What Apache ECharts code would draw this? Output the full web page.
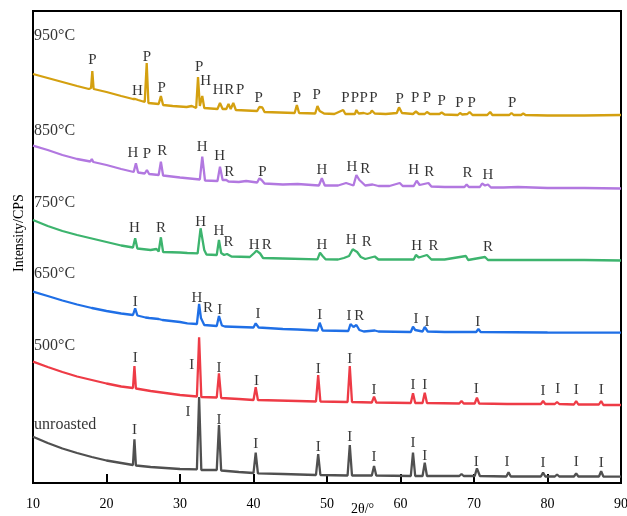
<!DOCTYPE html>
<html>
<head>
<meta charset="utf-8">
<script src="https://cdn.jsdelivr.net/npm/echarts@6/dist/echarts.min.js"></script>
<style>html,body{margin:0;padding:0;background:#fff}#c{width:627px;height:516px}</style>
</head>
<body>
<div id="c"></div>
<script>
// x tick labels
var xTicks = [10, 20, 30, 40, 50, 60, 70, 80, 90];
var seriesNames = ['950°C', '850°C', '750°C', '650°C', '500°C', 'unroasted'];
var nameY = [447, 352, 280, 209, 137.5, 58.5];

// Patterns: [2θ, intensity (stacked offset units)]
var s950 = [[10,409],[12,405],[14,401],[16,397],[17.6,394],[17.9,395],[18.07,412],[18.25,394],[20,391],[22,387],[23.6,384],[23.9,384],[24.1,386],[24.3,383],[25.2,381],[25.47,420],[25.7,380],[27.1,379],[27.4,387],[27.7,378],[29,377],[30.9,376],[31.6,377],[31.8,376],[32.2,375],[32.45,406],[32.7,377],[33.03,387],[33.3,375],[35.1,374],[35.44,380],[35.8,374],[36.3,374],[36.6,379],[36.9,374],[37.25,380],[37.6,373],[40.5,372],[40.8,376],[41.0,374],[41.2,375.5],[41.5,371],[45.6,370],[45.9,378],[46.2,370],[48.4,369.5],[48.7,377],[49.0,372],[49.2,373],[49.6,369.5],[51,369],[52.2,373],[52.5,369],[53.8,369],[54.0,373],[54.3,369.5],[55.0,370],[55.2,372],[55.5,369],[55.9,370],[56.1,372.5],[56.5,369.5],[58,369],[59.5,370],[59.8,375.7],[60.2,370],[61.7,369],[62.1,371.5],[62.5,369],[63.3,369],[63.6,371],[64,369],[65.3,369],[65.6,370.5],[66,368.5],[67.8,368],[68.1,370],[68.4,368.5],[69.1,369],[69.4,371],[69.8,368],[71.8,368],[72.2,371],[72.5,368],[74.8,368],[75.1,370],[75.4,368],[76.4,368],[76.7,369.5],[77,368],[80,367.5],[85,367.5],[90,368]];
var s850 = [[10,337.3],[12,333],[14,328],[16,324],[17.8,321.5],[18.0,324],[18.2,321],[20,318],[22,314],[23.7,311],[24.0,319.7],[24.3,310.5],[25.2,309.5],[25.5,313],[25.8,309],[27.1,308],[27.4,321.3],[27.7,307.5],[30,305.5],[32.7,303.5],[33.03,326.3],[33.4,302.5],[35.1,302],[35.44,316.3],[35.8,303],[36.0,302],[36.3,303],[36.6,301.5],[38,301],[39,302],[40.5,300.5],[40.8,304.7],[41.1,303],[41.5,299.5],[44,298.5],[46,299],[48.9,297.5],[49.3,304.7],[49.7,297.5],[51.5,297.5],[52.6,300],[53.6,297.5],[54.0,308],[54.4,303],[54.7,301],[55.2,297.5],[56.2,298.5],[57,297],[58.5,297],[59.9,300],[60.3,297],[61.8,297],[62.2,302.3],[62.6,298],[63.8,300],[64.2,296.5],[66,296],[68.7,296],[69.0,298.5],[69.3,296],[70.8,296],[71.1,299.5],[71.5,297.5],[71.9,298.5],[72.3,295.5],[74,295.5],[76,296],[80,295],[85,295],[90,294.5]];
var s750 = [[10,263],[12,257],[14,252],[16,248],[18,244.5],[20,241],[22,237.5],[23.6,235.5],[23.9,244.7],[24.2,234.5],[26,233],[26.8,234],[27.1,231.5],[27.4,245.7],[27.7,231],[30,230.5],[31,230],[32.4,229.7],[32.8,254.7],[33.3,233],[33.6,228.5],[35.0,228],[35.3,243],[35.6,230],[36.0,228],[36.4,229],[37,226.5],[39.5,226],[40.1,230],[40.4,232.3],[40.9,229.5],[41.3,225],[44,224.5],[48.7,223.7],[49.05,230.3],[49.4,227],[49.8,223.7],[51.5,223.5],[52.3,225],[53.0,227],[53.5,233.7],[54.1,231],[54.6,226],[55.2,224],[56.5,226.5],[57.0,223.5],[59,223.5],[61.8,223.5],[62.1,228],[62.5,225.5],[63.6,228],[64.2,223.5],[66,223.5],[68.9,227],[69.2,223],[71.5,226],[71.9,223],[76,223],[80,223],[85,223],[90,222.5]];
var s650 = [[10,191.3],[12,187],[14,182.5],[16,178.5],[18,175],[20,172],[22,169.5],[23.6,168],[23.9,174.7],[24.2,167.5],[25.3,165.5],[25.5,167.5],[25.8,165],[27.1,164],[27.3,166],[27.6,163],[30,161],[31,159.7],[32.3,159],[32.6,179],[32.85,165],[33.0,166.3],[33.3,158],[35.0,157],[35.3,167],[35.7,157.5],[36.1,156.5],[40.0,155.5],[40.3,159.7],[40.7,155.5],[44,154],[46,153.5],[48.7,152.5],[49.0,160.3],[49.4,152.5],[52.9,152],[53.2,159],[53.6,156],[54.0,158],[54.4,153],[55,151.5],[56.5,152.5],[57,151.5],[61.4,151],[61.7,156.3],[62.0,153],[63.0,151.5],[63.3,156],[63.7,151.5],[66,151],[70.3,151],[70.6,154],[70.9,151],[80,150.5],[90,150.3]];
var s500 = [[10,121.3],[12,116],[14,111],[16,106.5],[18,103],[20,99.5],[22,96.5],[23.6,95],[23.8,117],[24.0,94.5],[26,92],[28,90],[30,88],[32.3,86.5],[32.6,145.7],[32.9,86],[35.0,85.5],[35.3,109.7],[35.6,85],[38,84],[40.0,83],[40.3,95.7],[40.6,83],[46,82],[48.5,81.5],[48.8,108],[49.1,81.5],[52.8,81],[53.1,117],[53.4,81],[56.1,80.5],[56.4,86.3],[56.7,80.5],[61.4,80],[61.7,89.7],[62.0,80],[63.0,80],[63.3,90.3],[63.6,80],[68.0,79.5],[68.3,82],[68.6,79.5],[70.1,79.5],[70.4,85.3],[70.7,79.5],[74.5,79],[74.7,80.5],[75.0,79],[79.1,79],[79.4,82],[79.7,79],[81.0,79],[81.3,81],[81.6,79],[83.6,78.5],[83.9,82],[84.2,78.5],[87.0,78.5],[87.3,82],[87.6,78],[90,78]];
var sRaw = [[10,46.3],[12,40],[14,34.5],[16,30],[18,26],[20,22.5],[22,20],[23.6,18],[23.8,43.7],[24.0,17.5],[26,16],[28,15],[30,14],[32.3,13.7],[32.6,86],[32.9,13],[35.0,13],[35.3,58],[35.6,12.5],[38,11],[40.0,10],[40.3,30.3],[40.6,9.7],[44,9],[48.5,8],[48.8,29],[49.1,8],[52.8,7.5],[53.1,38],[53.4,7.5],[56.1,7.5],[56.4,17],[56.7,7.5],[61.4,7],[61.7,30.3],[62.0,7],[63.0,7],[63.3,20.3],[63.6,7],[68.0,7],[68.3,9],[68.6,7],[70.1,7],[70.4,14.7],[70.8,7],[74.4,6.5],[74.7,10.7],[75.0,6.5],[79.1,6.5],[79.4,10.3],[79.7,6.5],[81.0,6.5],[81.3,8.5],[81.6,6.5],[83.6,6.5],[83.9,9.7],[84.2,6.5],[87.0,6.5],[87.3,11.7],[87.6,6.5],[90,6.3]];

// Phase annotations: [2θ, intensity, phase letter]
var a950 = [[18.1,423,'P'],[24.2,392,'H'],[25.5,426.3,'P'],[27.5,394.7,'P'],[32.6,415.7,'P'],[33.5,402.3,'H'],[35.2,393,'H'],[36.7,393,'R'],[38.2,393,'P'],[40.7,384.7,'P'],[45.9,384.7,'P'],[48.6,388,'P'],[52.5,384.7,'P'],[53.8,384.7,'P'],[55.0,384.7,'P'],[56.3,384.7,'P'],[59.9,383.7,'P'],[62.0,384.7,'P'],[63.6,384.7,'P'],[65.6,382.3,'P'],[68.0,380,'P'],[69.7,380,'P'],[75.2,380,'P']];
var a850 = [[23.6,329.7,'H'],[25.5,328.7,'P'],[27.6,332.3,'R'],[33.03,336.3,'H'],[35.4,327.3,'H'],[36.7,311.3,'R'],[41.2,311.3,'P'],[49.3,313,'H'],[53.4,315.7,'H'],[55.2,313.7,'R'],[61.8,313,'H'],[63.9,310.7,'R'],[69.1,309.7,'R'],[71.9,308,'H']];
var a750 = [[23.8,255.3,'H'],[27.4,254.7,'R'],[32.8,260.7,'H'],[35.3,252.3,'H'],[36.6,240.7,'R'],[40.1,238,'H'],[41.8,238,'R'],[49.3,238,'H'],[53.3,243,'H'],[55.4,240.7,'R'],[62.2,237,'H'],[64.5,237,'R'],[71.9,235.7,'R']];
var a650 = [[23.9,181.3,'I'],[32.3,184.7,'H'],[33.8,174.7,'R'],[35.4,173,'I'],[40.6,169,'I'],[49.0,168,'I'],[53.0,167,'I'],[54.4,167,'R'],[62.1,163.7,'I'],[63.6,161.3,'I'],[70.5,161.3,'I']];
var a500 = [[23.9,124.7,'I'],[31.6,118,'I'],[35.3,114.7,'I'],[40.4,102.3,'I'],[48.8,113.7,'I'],[53.1,123.7,'I'],[56.4,93,'I'],[61.7,98,'I'],[63.3,98,'I'],[70.3,94,'I'],[79.4,92,'I'],[81.4,94,'I'],[83.9,93,'I'],[87.3,93,'I']];
var aRaw = [[23.8,53,'I'],[31.1,71.3,'I'],[35.3,63,'I'],[40.3,38.7,'I'],[48.8,36.3,'I'],[53.1,45.7,'I'],[56.4,26.3,'I'],[61.7,40.3,'I'],[63.3,27.3,'I'],[70.3,21.3,'I'],[74.5,21.3,'I'],[79.4,19.7,'I'],[83.9,21.3,'I'],[87.3,20,'I']];

var patterns = [s950, s850, s750, s650, s500, sRaw];
var annots = [a950, a850, a750, a650, a500, aRaw];
var colors = ['#D4A010', '#B278E0', '#3DB46E', '#1F6FE6', '#EE3B46', '#505050'];
var serif = "'Liberation Serif', 'Times New Roman', serif";

var series = [];
patterns.forEach(function (d, i) {
  series.push({
    type: 'line', data: d, showSymbol: false, symbol: 'none', silent: true,
    lineStyle: { color: colors[i], width: 2.3 }, z: 2
  });
});
annots.forEach(function (d) {
  series.push({
    type: 'scatter', data: d, symbolSize: 0, silent: true, z: 5,
    label: { show: true, position: 'inside', formatter: function (p) { return p.data[2]; },
      fontFamily: serif, fontSize: 15, color: '#000' }
  });
});
series.push({
  type: 'scatter', symbolSize: 0, silent: true, z: 5,
  data: seriesNames.map(function (n, i) { return [10.15, nameY[i], n]; }),
  label: { show: true, position: 'inside', align: 'left', formatter: function (p) { return p.data[2]; },
    fontFamily: serif, fontSize: 16, color: '#000' }
});

var chart = echarts.init(document.getElementById('c'), null, { renderer: 'canvas' });
chart.setOption({
  animation: false,
  backgroundColor: '#fff',
  grid: { left: 33, right: 6, top: 11, bottom: 33, containLabel: false, outerBoundsMode: 'none',
    show: true, borderColor: '#000', borderWidth: 2, backgroundColor: 'transparent' },
  xAxis: {
    type: 'value', min: 10, max: 90, interval: 10,
    axisLine: { show: true, lineStyle: { color: '#000', width: 2 } },
    axisTick: { show: true, inside: true, length: 9, lineStyle: { color: '#000', width: 2 } },
    axisLabel: { color: '#000', fontFamily: serif, fontSize: 14, margin: 14, hideOverlap: false,
      formatter: function (v) { return xTicks.indexOf(v) >= 0 ? String(v) : ''; } },
    splitLine: { show: false }
  },
  yAxis: {
    type: 'value', min: 0, max: 472,
    axisLine: { show: true, lineStyle: { color: '#000', width: 2 } },
    axisTick: { show: false }, axisLabel: { show: false }, splitLine: { show: false }
  },
  graphic: [
    { type: 'text', left: 351, top: 502, style: { text: '2θ/°', font: '14px ' + serif, fill: '#000' } },
    { type: 'text', x: 19, y: 233, rotation: Math.PI / 2,
      style: { text: 'Intensity/CPS', font: '14px ' + serif, fill: '#000', align: 'center', verticalAlign: 'middle' } }
  ],
  series: series
});
</script>
</body>
</html>
